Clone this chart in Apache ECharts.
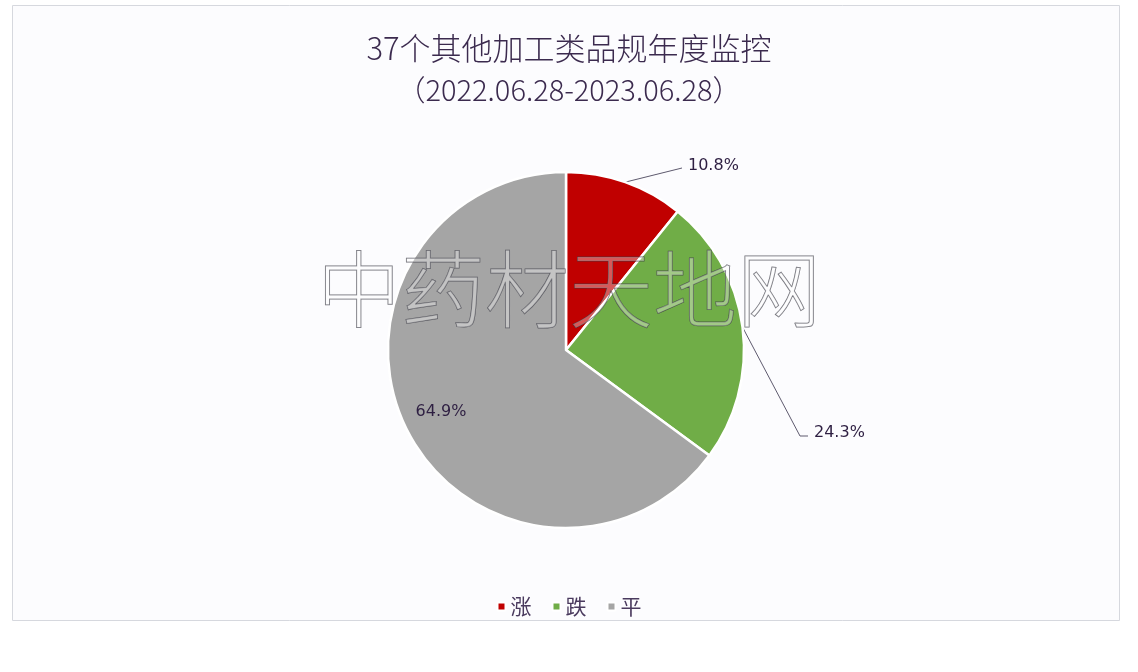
<!DOCTYPE html>
<html><head><meta charset="utf-8">
<script src="https://cdn.jsdelivr.net/npm/echarts@6/dist/echarts.min.js"></script>
<style>html,body{margin:0;padding:0;background:#ffffff;}#c{width:1138px;height:672px;}</style>
</head><body><div id="c"></div>
<script>
const titleLine1 = '37个其他加工类品规年度监控';
const titleLine2 = '（2022.06.28-2023.06.28）';
const categories = ['涨', '跌', '平'];
const values = [10.8, 24.3, 64.9];
const colors = ['#c00000', '#70ad47', '#a5a5a5'];
const watermark = '中药材天地网';

const chart = echarts.init(document.getElementById('c'), null, {renderer: 'canvas'});
const labelPos = [
  {x: 688, y: 166, line: [[682, 168]]},
  {x: 814, y: 433, line: [[800, 436], [808, 436]]},
  {x: 441, y: 412}
];
const labelStyle = {fontFamily: 'DejaVu Sans', fontSize: 16, color: '#2e1f42'};
chart.setOption({
  backgroundColor: '#ffffff',
  color: colors,
  animation: false,
  title: [
    {text: titleLine1, left: 'center', top: 28, textStyle: {fontFamily: 'Noto Sans CJK SC', fontWeight: 300, fontSize: 31, color: '#3b2a4e'}},
    {text: titleLine2, left: 'center', top: 70, textStyle: {fontFamily: 'Noto Sans CJK SC', fontWeight: 300, fontSize: 29, color: '#3b2a4e'}}
  ],
  legend: {
    bottom: 50, left: 'center', icon: 'rect', itemWidth: 8, itemHeight: 8, itemGap: 20,
    textStyle: {fontFamily: 'Noto Sans CJK SC', fontSize: 21, color: '#4a3a5e'},
    data: categories
  },
  graphic: [
    {type: 'rect', left: 12, top: 5, shape: {width: 1107, height: 615}, style: {fill: '#fcfcfe', stroke: '#d6d8de', lineWidth: 1}, z: -10, silent: true},
    {type: 'text', left: 'center', top: 247, z: 100, silent: true,
     style: {text: watermark, fontFamily: 'Noto Sans CJK SC', fontWeight: 200, fontSize: 84, fill: 'rgba(255,255,255,0.35)', stroke: 'rgba(60,60,70,0.75)', lineWidth: 1}}
  ],
  series: [{
    type: 'pie',
    center: [566, 350],
    radius: ['0%', 178],
    startAngle: 90,
    clockwise: true,
    data: categories.map((c, i) => i === 2
      ? {name: c, value: values[i], label: {position: 'inside'}, labelLine: {show: false}}
      : {name: c, value: values[i]}),
    itemStyle: {borderColor: '#ffffff', borderWidth: 2.5},
    label: Object.assign({show: true, formatter: p => p.value.toFixed(1) + '%'}, labelStyle),
    labelLine: {show: true, length: 10, length2: 10, lineStyle: {color: '#5e5a6e', width: 1}},
    labelLayout: function (p) {
      const lp = labelPos[p.dataIndex];
      if (!lp.line) return {x: lp.x, y: lp.y, align: 'center', verticalAlign: 'middle'};
      const start = p.labelLinePoints[0];
      return {x: lp.x, y: lp.y, align: 'left', verticalAlign: 'middle',
        labelLinePoints: [start].concat(lp.line)};
    }
  }]
});
</script></body></html>
